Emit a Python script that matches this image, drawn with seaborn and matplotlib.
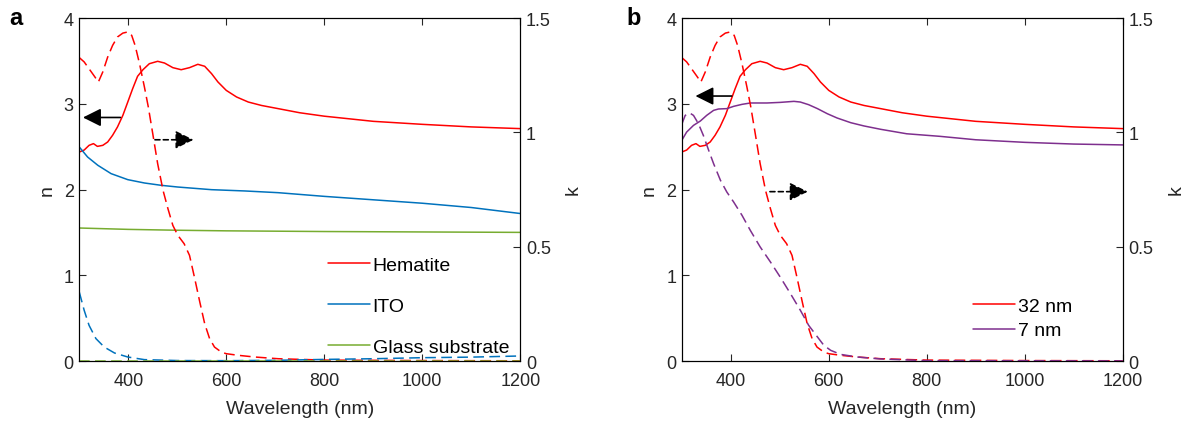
import numpy as np
import pandas as pd
import matplotlib
matplotlib.use("Agg")
import matplotlib.pyplot as plt
import seaborn as sns

# Datos
# Hematite / 32 nm, n
hem_n_wl = [300, 310, 320, 329, 337, 348, 358, 368, 378, 389, 399, 409, 419, 430, 443, 460, 474,
            491, 508, 525, 542, 556, 570, 583, 600, 621, 645, 672, 706, 750, 800, 900, 1000, 1100, 1200]
hem_n = [2.437, 2.46, 2.515, 2.535, 2.503, 2.515, 2.554, 2.632, 2.729, 2.865, 3.02, 3.176, 3.32, 3.397,
         3.467, 3.495, 3.475, 3.421, 3.397, 3.421, 3.46, 3.437, 3.351, 3.254, 3.156, 3.079, 3.02, 2.98,
         2.943, 2.895, 2.855, 2.795, 2.76, 2.73, 2.71]
# Hematite / 32 nm, k
hem_k_wl = [300, 310, 320, 331, 339, 348, 358, 368, 378, 389, 399, 407, 414, 423, 433, 441, 450,
            460, 471, 481, 491, 501, 514, 525, 535, 546, 556, 566, 576, 590, 600, 624, 658, 706,
            800, 1000, 1200]
hem_k = [1.327, 1.308, 1.278, 1.245, 1.22, 1.264, 1.329, 1.38, 1.417, 1.434, 1.439, 1.424, 1.38, 1.30,
         1.198, 1.11, 0.994, 0.863, 0.746, 0.666, 0.593, 0.55, 0.513, 0.462, 0.367, 0.258, 0.163, 0.098,
         0.061, 0.039, 0.032, 0.025, 0.0175, 0.010, 0.004, 0.002, 0.001]
# ITO
ito_n_wl = [300, 317, 338, 365, 399, 433, 467, 501, 570, 638, 706, 800, 900, 1000, 1100, 1200]
ito_n = [2.496, 2.379, 2.282, 2.185, 2.115, 2.076, 2.049, 2.029, 1.998, 1.983, 1.963, 1.92, 1.88, 1.84,
         1.79, 1.72]
ito_k_wl = [300, 310, 320, 334, 351, 372, 399, 433, 501, 600, 700, 800, 900, 1000, 1100, 1200]
ito_k = [0.302, 0.222, 0.156, 0.098, 0.061, 0.035, 0.0175, 0.006, 0.002, 0.0015, 0.003, 0.007, 0.010,
         0.0145, 0.017, 0.022]
# Glass substrate
glass_wl = [300, 400, 500, 600, 800, 1000, 1200]
glass_n = [1.551, 1.535, 1.525, 1.518, 1.51, 1.505, 1.50]
glass_k = [0, 0, 0, 0, 0, 0, 0]
# 7 nm
h7_n_wl = [300, 310, 324, 338, 351, 365, 375, 392, 406, 423, 440, 474, 501, 529, 542, 559, 577,
           597, 617, 645, 672, 706, 759, 827, 900, 1000, 1100, 1200]
h7_n = [2.573, 2.67, 2.748, 2.799, 2.865, 2.923, 2.939, 2.943, 2.97, 2.993, 3.009, 3.009, 3.016, 3.028,
        3.02, 2.989, 2.943, 2.884, 2.834, 2.779, 2.741, 2.702, 2.65, 2.62, 2.58, 2.55, 2.53, 2.52]
h7_k_wl = [300, 307, 316, 324, 334, 344, 355, 365, 379, 392, 406, 423, 440, 460, 481, 501, 522,
           542, 559, 577, 590, 604, 624, 658, 706, 800, 1200]
h7_k = [1.035, 1.074, 1.085, 1.074, 1.038, 0.987, 0.921, 0.863, 0.79, 0.739, 0.695, 0.637, 0.571, 0.499,
        0.433, 0.367, 0.294, 0.222, 0.156, 0.105, 0.0685, 0.0466, 0.029, 0.0175, 0.009, 0.0015, 0.0005]

RED = "#FF0000"
BLUE = "#0072BD"
GREEN = "#77AC30"
PURPLE = "#7E2F8E"
TXT = "#262626"

sns.set_style("ticks")
plt.rcParams["font.family"] = ["Liberation Sans", "DejaVu Sans"]
plt.rcParams["axes.edgecolor"] = "black"
plt.rcParams["axes.linewidth"] = 0.8

fig = plt.figure(figsize=(11.9, 4.27), dpi=100)
ax_a = fig.add_axes([0.0666, 0.1522, 0.3706, 0.8033])
ax_b = fig.add_axes([0.5729, 0.1522, 0.3706, 0.8033])

LW = 1.1
DASH = (7, 3.5)
HEAD = "-|>,head_length=1.1,head_width=0.55"


def setup(ax):
    ax2 = ax.twinx()
    ax.set_xlim(300, 1200)
    ax.set_ylim(0, 4)
    ax2.set_ylim(0, 1.5)
    ax.set_xticks([400, 600, 800, 1000, 1200])
    ax.set_yticks([0, 1, 2, 3, 4])
    ax2.set_yticks([0, 0.5, 1, 1.5])
    ax2.set_yticklabels(["0", "0.5", "1", "1.5"])
    ax.tick_params(direction="in", length=5, width=0.8, labelsize=13, labelcolor=TXT,
                   top=True, right=False, pad=4)
    ax.tick_params(axis="x", pad=8)
    ax2.tick_params(direction="in", length=5, width=0.8, labelsize=13, labelcolor=TXT, pad=4)
    ax.set_xlabel("Wavelength (nm)", fontsize=14, color=TXT, labelpad=8)
    ax.set_ylabel("n", fontsize=14, color=TXT, labelpad=6)
    ax2.set_ylabel("k", fontsize=14, color=TXT, labelpad=10)
    for a in (ax, ax2):
        for s in a.spines.values():
            s.set_visible(True)
            s.set_linewidth(0.8)
    return ax2


def arrows(ax, left_tail, left_tip, y_left, right_tail, right_tip, y_right):
    ax.annotate("", xy=(left_tip, y_left), xytext=(left_tail, y_left),
                arrowprops=dict(arrowstyle=HEAD, color="black",
                                lw=1.2, mutation_scale=10, shrinkA=0, shrinkB=0))
    ax.annotate("", xy=(right_tip, y_right), xytext=(right_tail, y_right),
                arrowprops=dict(arrowstyle=HEAD, color="black",
                                lw=1.2, ls=(0, (3, 2)), mutation_scale=10, shrinkA=0, shrinkB=0))


# Panel a
ka = setup(ax_a)
sns.lineplot(x=hem_n_wl, y=hem_n, ax=ax_a, color=RED, lw=LW, label="Hematite")
sns.lineplot(x=ito_n_wl, y=ito_n, ax=ax_a, color=BLUE, lw=LW, label="ITO")
sns.lineplot(x=glass_wl, y=glass_n, ax=ax_a, color=GREEN, lw=LW, label="Glass substrate")
sns.lineplot(x=hem_k_wl, y=hem_k, ax=ka, color=RED, lw=LW, linestyle=(0, DASH))
sns.lineplot(x=ito_k_wl, y=ito_k, ax=ka, color=BLUE, lw=LW, linestyle=(0, DASH))
sns.lineplot(x=glass_wl, y=glass_k, ax=ka, color=GREEN, lw=LW, linestyle=(0, DASH), clip_on=False)
ax_a.legend(loc="center left", bbox_to_anchor=(0.564, 0.160), frameon=False, fontsize=14,
            handlelength=2.15, handletextpad=0.15, labelspacing=1.2, borderpad=0, borderaxespad=0,
            labelcolor="black")
arrows(ax_a, 384, 307.6, 2.84, 454.5, 533, 2.58)
fig.text(0.008, 0.957, "a", fontsize=17, fontweight="bold", color="black", va="center")

# Panel b
kb = setup(ax_b)
sns.lineplot(x=hem_n_wl, y=hem_n, ax=ax_b, color=RED, lw=LW, label="32 nm")
sns.lineplot(x=h7_n_wl, y=h7_n, ax=ax_b, color=PURPLE, lw=LW, label="7 nm")
sns.lineplot(x=hem_k_wl, y=hem_k, ax=kb, color=RED, lw=LW, linestyle=(0, DASH))
sns.lineplot(x=h7_k_wl, y=h7_k, ax=kb, color=PURPLE, lw=LW, linestyle=(0, DASH))
ax_b.legend(loc="center left", bbox_to_anchor=(0.6605, 0.125), frameon=False, fontsize=14,
            handlelength=2.15, handletextpad=0.15, labelspacing=0.37, borderpad=0, borderaxespad=0,
            labelcolor="black")
arrows(ax_b, 402, 328, 3.09, 480, 557, 1.975)
fig.text(0.5265, 0.957, "b", fontsize=17, fontweight="bold", color="black", va="center")

fig.savefig("out.png", dpi=100)
